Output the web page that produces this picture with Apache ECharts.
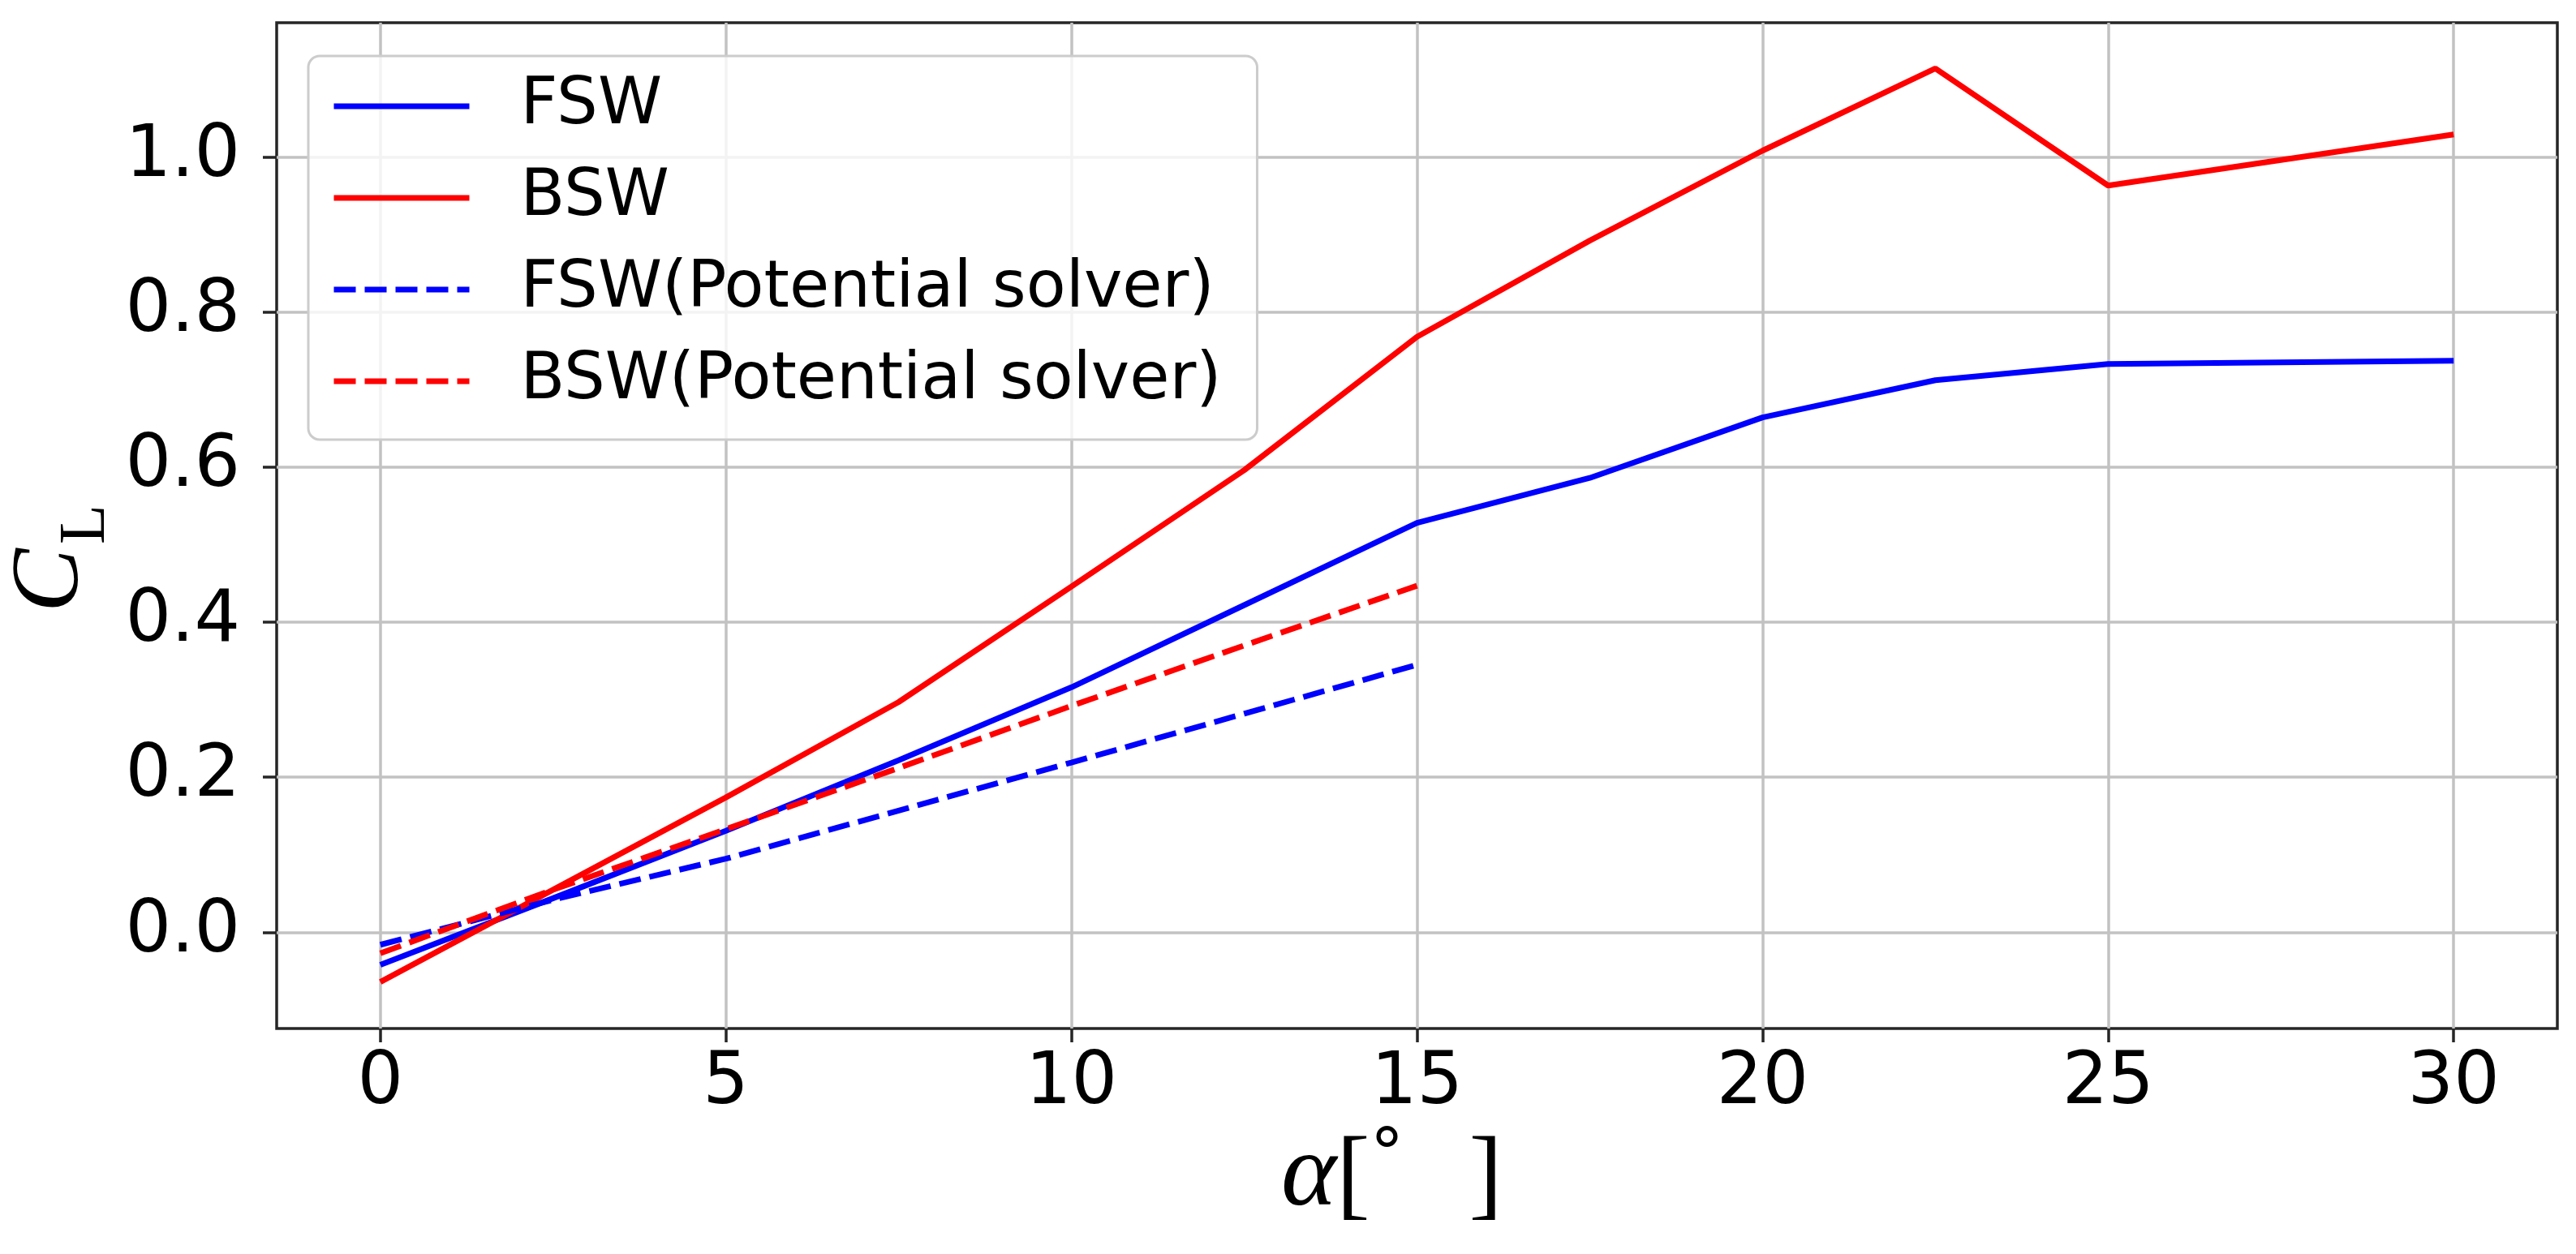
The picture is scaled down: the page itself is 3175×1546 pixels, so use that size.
<!DOCTYPE html>
<html>
<head>
<meta charset="utf-8">
<script src="https://cdn.jsdelivr.net/npm/echarts@6/dist/echarts.min.js"></script>
<style>
    html, body { margin: 0; padding: 0; background: #fff; }
    #chart { width: 3175px; height: 1546px; }
</style>
</head>
<body>
<div id="chart"></div>
<script>
// angle of attack [deg]
var alphaFull = [0, 2.5, 5, 7.5, 10, 12.5, 15, 17.5, 20, 22.5, 25, 30];
var alphaPot = [0, 2.5, 5, 7.5, 10, 12.5, 15];
// lift coefficient
var clFSW = [-0.042, 0.044, 0.131, 0.222, 0.316, 0.422, 0.528, 0.586, 0.664, 0.712, 0.733, 0.737];
var clBSW = [-0.064, 0.055, 0.174, 0.297, 0.446, 0.596, 0.768, 0.892, 1.008, 1.114, 0.963, 1.029];
var clFSWPot = [-0.016, 0.042, 0.095, 0.157, 0.219, 0.282, 0.345];
var clBSWPot = [-0.027, 0.055, 0.133, 0.212, 0.292, 0.370, 0.447];
// ticks
var xTicks = [0, 5, 10, 15, 20, 25, 30];
var yTicks = [0.0, 0.2, 0.4, 0.6, 0.8, 1.0];

function pairs(xs, ys) {
    return xs.map(function (x, i) { return [x, ys[i]]; });
}

var chart = echarts.init(document.getElementById('chart'));

var axisColor = '#262626';
var gridColor = '#c2c2c2';

function lineSeries(name, xs, ys, color, dashed) {
    return {
        name: name,
        type: 'line',
        data: pairs(xs, ys),
        symbol: 'none',
        color: color,
        lineStyle: {
            color: color,
            width: 7,
            type: dashed ? [27, 11] : 'solid'
        },
        animation: false
    };
}

var option = {
    backgroundColor: '#fff',
    grid: {
        left: 341,
        right: 23,
        top: 28,
        bottom: 278,
        outerBoundsMode: 'none',
        containLabel: false,
        show: true,
        borderColor: axisColor,
        borderWidth: 3.5,
        backgroundColor: 'transparent'
    },
    // y axis title C_L (rotated, subscript drawn as its own text)
    graphic: [
        {
            type: 'text',
            x: 123,
            y: 755,
            rotation: Math.PI / 2,
            style: {
                text: 'C',
                font: 'italic 118px "Liberation Serif"',
                fill: '#000',
                align: 'left',
                verticalAlign: 'bottom'
            }
        },
        {
            type: 'text',
            x: 147,
            y: 671,
            rotation: Math.PI / 2,
            style: {
                text: 'L',
                font: '80px "Liberation Serif"',
                fill: '#000',
                align: 'left',
                verticalAlign: 'bottom'
            }
        }
    ],
    legend: {
        orient: 'vertical',
        left: 380,
        top: 69,
        padding: [22, 44, 32, 28],
        itemWidth: 167,
        itemHeight: 80,
        itemGap: 33,
        backgroundColor: 'rgba(255,255,255,0.8)',
        borderColor: '#cccccc',
        borderWidth: 3,
        borderRadius: 14,
        lineStyle: { width: 'inherit' },
        itemStyle: { opacity: 0 },
        textStyle: {
            fontFamily: 'DejaVu Sans',
            fontSize: 80,
            color: '#000',
            lineHeight: 80,
            padding: [0, 0, 0, 58]
        },
        data: ['FSW', 'BSW', 'FSW(Potential solver)', 'BSW(Potential solver)']
    },
    xAxis: {
        type: 'value',
        min: -1.5,
        max: 31.5,
        name: '{a|α}{b|[}{c|°}{s|}{b|]}{e|}',
        nameLocation: 'middle',
        nameGap: 118,
        nameTextStyle: {
            rich: {
                a: { fontFamily: 'Liberation Serif', fontStyle: 'italic', fontSize: 130, verticalAlign: 'bottom', color: '#000' },
                b: { fontFamily: 'Liberation Serif', fontSize: 124, verticalAlign: 'bottom', color: '#000' },
                c: { fontFamily: 'DejaVu Sans', fontSize: 84, verticalAlign: 'top', color: '#000' },
                s: { width: 80 },
                e: { width: 62 }
            }
        },
        axisLine: { show: false, onZero: false },
        axisTick: {
            show: true,
            length: 17,
            customValues: xTicks,
            lineStyle: { color: axisColor, width: 3.5 }
        },
        axisLabel: {
            customValues: xTicks,
            margin: 24,
            fontFamily: 'DejaVu Sans',
            fontSize: 89,
            color: '#000'
        },
        splitLine: {
            show: true,
            lineStyle: { color: gridColor, width: 3.5 }
        }
    },
    yAxis: {
        type: 'value',
        min: -0.124,
        max: 1.173,
        axisLine: { show: false, onZero: false },
        axisTick: {
            show: true,
            length: 17,
            customValues: yTicks,
            lineStyle: { color: axisColor, width: 3.5 }
        },
        axisLabel: {
            customValues: yTicks,
            margin: 45,
            fontFamily: 'DejaVu Sans',
            fontSize: 89,
            color: '#000',
            formatter: function (v) { return v.toFixed(1); }
        },
        splitLine: {
            show: true,
            lineStyle: { color: gridColor, width: 3.5 }
        }
    },
    series: [
        lineSeries('FSW', alphaFull, clFSW, '#0000ff', false),
        lineSeries('BSW', alphaFull, clBSW, '#ff0000', false),
        lineSeries('FSW(Potential solver)', alphaPot, clFSWPot, '#0000ff', true),
        lineSeries('BSW(Potential solver)', alphaPot, clBSWPot, '#ff0000', true)
    ]
};

chart.setOption(option);
</script>
</body>
</html>
